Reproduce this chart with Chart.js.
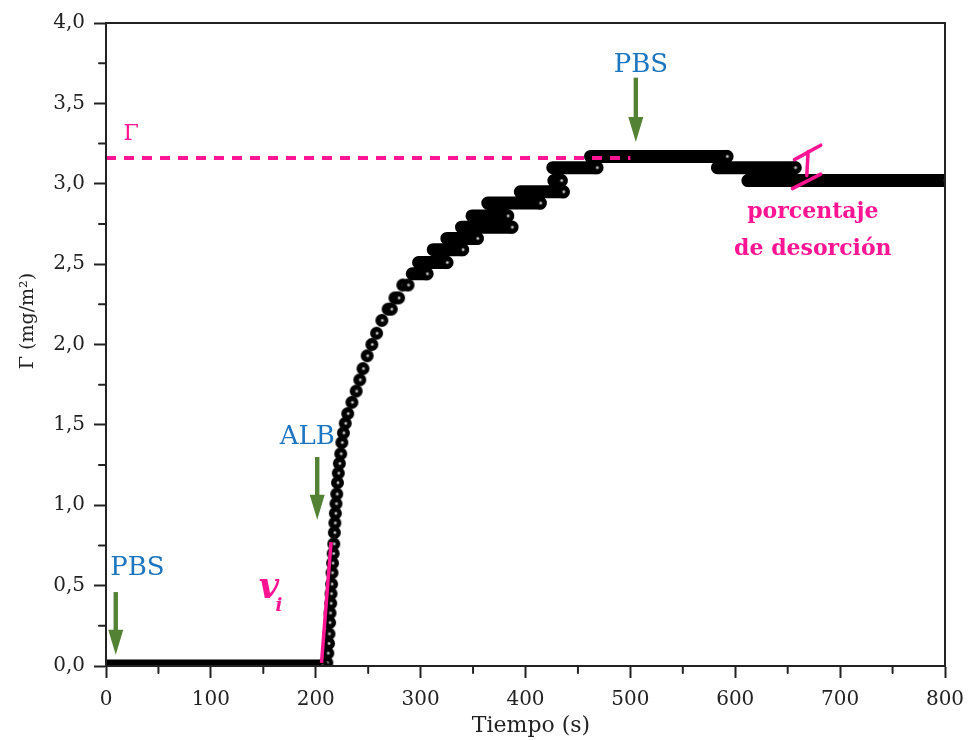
<!DOCTYPE html>
<html lang="es">
<head>
<meta charset="UTF-8">
<title>Adsorción de ALB</title>
<script src="https://cdn.jsdelivr.net/npm/chart.js@4.4.1/dist/chart.umd.min.js"></script>
<style>
  html, body { margin: 0; padding: 0; background: #fff; }
</style>
</head>
<body>
<canvas id="grafico" width="968" height="740"></canvas>
<script>
// ---- datos ----
// subida tras la inyección de ALB (puntos sueltos)
const tiempoSubida = [210.6, 211.5, 212.2, 212.6, 213.2, 213.6, 214.3, 214.6, 215.1, 215.5, 216.0, 216.6, 217.2,
  217.7, 218.2, 218.7, 219.3, 220.0, 220.7, 221.5, 222.5, 223.8, 224.9, 226.4, 228.1, 230.5, 234.5, 238.5,
  242, 245, 249, 253.5, 258, 263, 269, 272, 275.5, 279, 283, 288];
const gammaSubida = [0.02, 0.08, 0.14, 0.20, 0.27, 0.33, 0.39, 0.45, 0.51, 0.58, 0.64, 0.70, 0.76,
  0.83, 0.89, 0.95, 1.01, 1.07, 1.14, 1.20, 1.26, 1.32, 1.39, 1.45, 1.51, 1.57, 1.64, 1.71,
  1.78, 1.85, 1.93, 2.00, 2.07, 2.15, 2.22, 2.22, 2.29, 2.29, 2.37, 2.37];

// tramos planos (valores cuantizados): inicio, fin, nivel
const runInicio = [0, 292, 298, 312, 325, 339, 349, 364, 395, 427, 426, 462, 583, 612];
const runFin    = [206, 306, 325, 340, 354, 387, 383, 414, 436, 434, 468, 592, 657, 800];
const runNivel  = [0, 2.44, 2.51, 2.59, 2.66, 2.73, 2.80, 2.88, 2.95, 3.02, 3.10, 3.17, 3.10, 3.02];

// ejes
const marcasX = [0, 100, 200, 300, 400, 500, 600, 700, 800];
const marcasY = [0, 0.5, 1.0, 1.5, 2.0, 2.5, 3.0, 3.5, 4.0];
const menoresX = [50, 150, 250, 350, 450, 550, 650, 750];
const menoresY = [0.25, 0.75, 1.25, 1.75, 2.25, 2.75, 3.25, 3.75];

// anotaciones
const gammaMax = 3.16;
const tangenteX = [205.5, 214.6];
const tangenteY = [0.02, 0.77];
const flechaX = [9.3, 201.4, 505.2];
const flechaArriba = [0.46, 1.30, 3.66];
const flechaPunta = [0.07, 0.91, 3.26];

const rosa = '#ff1493';
const azul = '#1b75c0';
const verde = '#548235';
const ejeColor = '#222';

// esfera negra con brillo, como los símbolos de Origin
function crearEsfera(r) {
  const c = document.createElement('canvas');
  const s = Math.ceil(r * 2) + 2;
  c.width = c.height = s;
  const g = c.getContext('2d');
  const m = s / 2;
  g.fillStyle = '#000';
  g.beginPath(); g.arc(m, m, r, 0, Math.PI * 2); g.fill();
  const grad = g.createRadialGradient(m + 0.5, m, 0, m + 0.5, m, r * 0.38);
  grad.addColorStop(0, 'rgba(255,255,255,1)');
  grad.addColorStop(0.4, 'rgba(220,220,220,0.75)');
  grad.addColorStop(1, 'rgba(0,0,0,0)');
  g.fillStyle = grad;
  g.beginPath(); g.arc(m, m, r, 0, Math.PI * 2); g.fill();
  return c;
}
const esfera = crearEsfera(6.5);

var puntosSubida = tiempoSubida.map(function (t, i) { return { x: t, y: gammaSubida[i] }; });
var tramos = [];
var finales = [];
for (var i = 0; i < runInicio.length; i++) {
  tramos.push({ x: runInicio[i], y: runNivel[i] });
  tramos.push({ x: runFin[i], y: runNivel[i] });
  tramos.push({ x: runFin[i], y: null });
  finales.push({ x: runFin[i], y: runNivel[i] });
}

var dibujarTexto = function (ctx, txt, px, py, font, color, align) {
  ctx.font = font;
  ctx.fillStyle = color;
  ctx.textAlign = align || 'center';
  ctx.textBaseline = 'middle';
  ctx.fillText(txt, px, py);
};

const extras = {
  id: 'extras',
  afterDatasetsDraw: function (chart) {
    const ctx = chart.ctx;
    const xs = chart.scales.x, ys = chart.scales.y;
    const a = chart.chartArea;
    const X = function (v) { return xs.getPixelForValue(v); };
    const Y = function (v) { return ys.getPixelForValue(v); };
    ctx.save();

    // línea Γ discontinua
    ctx.strokeStyle = rosa;
    ctx.lineWidth = 4;
    ctx.setLineDash([10, 8]);
    ctx.beginPath(); ctx.moveTo(X(0), Y(gammaMax)); ctx.lineTo(X(500), Y(gammaMax)); ctx.stroke();
    ctx.setLineDash([]);

    // tangente inicial v_i
    ctx.lineWidth = 3.5;
    ctx.beginPath(); ctx.moveTo(X(tangenteX[0]), Y(tangenteY[0])); ctx.lineTo(X(tangenteX[1]), Y(tangenteY[1])); ctx.stroke();

    // marca de desorción
    ctx.lineWidth = 3.5;
    ctx.lineCap = 'round';
    ctx.beginPath();
    ctx.moveTo(X(656.5), Y(3.15)); ctx.lineTo(X(681.5), Y(3.24));
    ctx.moveTo(X(669.5), Y(3.20)); ctx.lineTo(X(668.2), Y(3.05));
    ctx.moveTo(X(654.5), Y(2.97)); ctx.lineTo(X(681.5), Y(3.06));
    ctx.stroke();

    // flechas verdes
    ctx.fillStyle = verde;
    for (var k = 0; k < flechaX.length; k++) {
      var px = X(flechaX[k]), top = Y(flechaArriba[k]), tip = Y(flechaPunta[k]);
      ctx.fillRect(px - 2.2, top, 4.4, tip - 24 - top);
      ctx.beginPath();
      ctx.moveTo(px - 7.5, tip - 25); ctx.lineTo(px + 7.5, tip - 25); ctx.lineTo(px, tip);
      ctx.closePath(); ctx.fill();
    }

    // textos
    const serif = '"DejaVu Serif", serif';
    dibujarTexto(ctx, 'PBS', X(30), Y(0.61), '26px ' + serif, azul);
    dibujarTexto(ctx, 'ALB', X(192), Y(1.42), '26px ' + serif, azul);
    dibujarTexto(ctx, 'PBS', X(510), Y(3.74), '26px ' + serif, azul);
    dibujarTexto(ctx, 'Γ', X(24), Y(3.31), '22px ' + serif, rosa);
    dibujarTexto(ctx, 'porcentaje', X(674), Y(2.82), 'bold 22px ' + serif, rosa);
    dibujarTexto(ctx, 'de desorción', X(674), Y(2.59), 'bold 22px ' + serif, rosa);
    dibujarTexto(ctx, 'v', X(155.4), Y(0.48), 'bold italic 35px ' + serif, rosa);
    dibujarTexto(ctx, 'i', X(165), Y(0.37), 'bold italic 18px ' + serif, rosa);

    // marco
    ctx.strokeStyle = ejeColor;
    ctx.lineWidth = 2;
    ctx.strokeRect(a.left, a.top, a.right - a.left, a.bottom - a.top);

    // marcas menores
    ctx.beginPath();
    menoresX.forEach(function (v) { ctx.moveTo(X(v), a.bottom); ctx.lineTo(X(v), a.bottom + 7); });
    menoresY.forEach(function (v) { ctx.moveTo(a.left, Y(v)); ctx.lineTo(a.left - 7, Y(v)); });
    ctx.stroke();

    // títulos de ejes
    dibujarTexto(ctx, 'Tiempo (s)', 531, 726, '22px ' + serif, '#222');
    ctx.translate(28, 321);
    ctx.rotate(-Math.PI / 2);
    dibujarTexto(ctx, 'Γ (mg/m²)', 0, 0, '19px ' + serif, '#222');
    ctx.restore();
  }
};

const fmt = function (v) { return Number(v).toFixed(1).replace('.', ','); };

const grafico = new Chart(document.getElementById('grafico').getContext('2d'), {
  type: 'line',
  data: {
    datasets: [{
      label: 'tramos',
      data: tramos,
      borderColor: '#000',
      borderWidth: 13,
      borderCapStyle: 'round',
      borderJoinStyle: 'round',
      pointRadius: 0,
      spanGaps: false,
      clip: 0,
      order: 3
    }, {
      label: 'subida',
      data: puntosSubida,
      showLine: false,
      pointStyle: esfera,
      pointRadius: 6.5,
      clip: 0,
      order: 2
    }, {
      label: 'finales',
      data: finales,
      showLine: false,
      pointStyle: esfera,
      pointRadius: 6.5,
      clip: 0,
      order: 1
    }]
  },
  options: {
    responsive: false,
    animation: false,
    events: [],
    layout: { padding: { top: 23, right: 23, left: 0, bottom: 0 } },
    plugins: { legend: { display: false }, tooltip: { enabled: false } },
    scales: {
      x: {
        type: 'linear', min: 0, max: 800,
        afterBuildTicks: function (s) { s.ticks = marcasX.map(function (v) { return { value: v }; }); },
        afterFit: function (s) { s.height = 74; s.paddingRight = 0; s.paddingLeft = 0; },
        grid: { drawOnChartArea: false, tickLength: 12, tickWidth: 2, tickColor: ejeColor },
        border: { display: true, color: ejeColor, width: 2 },
        ticks: { color: '#222', padding: 10, maxRotation: 0, font: { family: 'DejaVu Serif', size: 20 } }
      },
      y: {
        type: 'linear', min: 0, max: 4,
        afterBuildTicks: function (s) { s.ticks = marcasY.map(function (v) { return { value: v }; }); },
        afterFit: function (s) { s.width = 106; },
        grid: { drawOnChartArea: false, tickLength: 12, tickWidth: 2, tickColor: ejeColor },
        border: { display: true, color: ejeColor, width: 2 },
        ticks: { color: '#222', padding: 9, callback: fmt, font: { family: 'DejaVu Serif', size: 20 } }
      }
    }
  },
  plugins: [extras]
});
</script>
</body>
</html>
